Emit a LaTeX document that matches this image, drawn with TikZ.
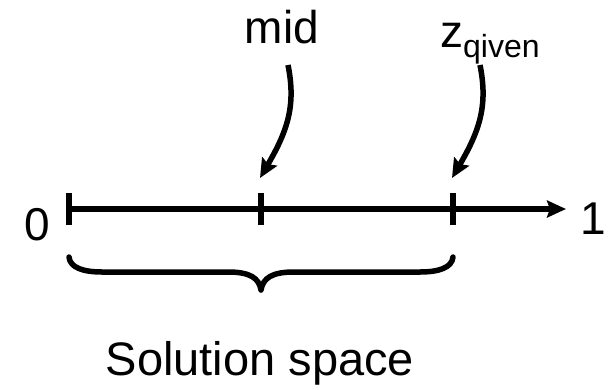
\documentclass[tikz,border=0pt]{standalone}
\usepackage{fontspec}
\setmainfont{Liberation Sans}
\usetikzlibrary{arrows.meta}
\begin{document}
\begin{tikzpicture}[x=1pt,y=1pt,
  lbl/.style={inner sep=0pt,font=\fontsize{46}{46}\selectfont},
  axisline/.style={line width=5.4pt,-{Stealth[length=19pt,width=17pt,inset=3pt]}},
  tickmark/.style={line width=6pt},
  pointer/.style={line width=5.5pt,-{Stealth[length=19pt,width=17pt,inset=3pt]}},
  bracestyle/.style={line width=5.5pt,line cap=round,line join=round}]
\useasboundingbox (0,0) rectangle (608,-389);
% axis
\coordinate (a0) at (69,-209);
\coordinate (a1) at (566,-209);
\coordinate (tm) at (261,-209);
\coordinate (tz) at (453,-209);
\draw[axisline] (a0) -- (a1);
\draw[tickmark] ([yshift=16pt]a0) -- ([yshift=-16pt]a0);
\draw[tickmark] ([yshift=16pt]tm) -- ([yshift=-16pt]tm);
\draw[tickmark] ([yshift=16pt]tz) -- ([yshift=-16pt]tz);
% labels
\node[lbl,anchor=base] (zero) at (37,-240) {0};
\node[lbl,anchor=base] (one) at (593,-234) {1};
\node[lbl,anchor=base] (mid) at (282,-43) {mid};
\node[lbl,anchor=base west] (zg) at (440,-47) {z\raisebox{-10pt}{\fontsize{32}{32}\selectfont qiven}};
\node[lbl,anchor=base,font=\fontsize{47}{47}\selectfont] (sol) at (260,-375) {Solution space};
% pointers
\coordinate (ms) at (288,-65);
\coordinate (me) at (260,-178);
\coordinate (zs) at (480,-65);
\coordinate (ze) at (452,-178);
\draw[pointer] (ms) .. controls (296,-105) and (288,-130) .. (me);
\draw[pointer] (zs) .. controls (488,-105) and (480,-130) .. (ze);
% brace
\coordinate (bl) at (69,-257);
\coordinate (br) at (453,-257);
\coordinate (bc) at (261,-290);
\draw[bracestyle] (bl) .. controls (70,-268) and (84,-272) .. (102,-272) -- (228,-272)
  .. controls (250,-272) and (259,-278) .. (bc)
  .. controls (263,-278) and (272,-272) .. (294,-272) -- (420,-272)
  .. controls (438,-272) and (452,-268) .. (br);
\end{tikzpicture}
\end{document}
